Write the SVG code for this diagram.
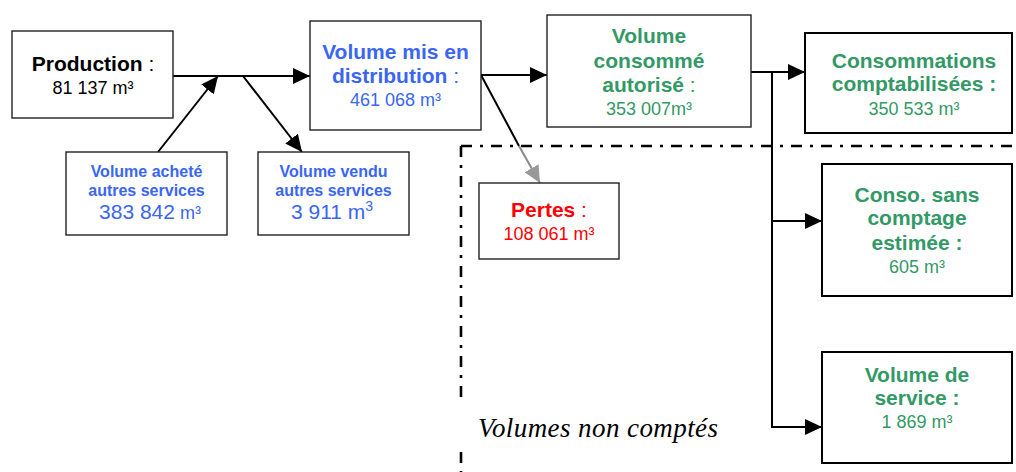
<svg xmlns="http://www.w3.org/2000/svg" width="1016" height="472" viewBox="0 0 1016 472">
<style>
text{font-family:"Liberation Sans",Arial,sans-serif;text-anchor:middle}
.b{font-weight:bold;font-size:21px}
.r{font-weight:normal}
.n{font-size:18px}
.sb{font-weight:bold;font-size:16px}
.blue{fill:#3a66f2}
.green{fill:#339966}
.red{fill:#ff0000}
.box{fill:#fff;stroke:#222;stroke-width:1.4}
.box2{fill:#fff;stroke:#000;stroke-width:2}
.ln{stroke:#000;stroke-width:2;fill:none}
.dd{stroke:#000;stroke-width:2.6;fill:none;stroke-dasharray:11 8 3 8}
</style>
<defs>
<marker id="ah" markerUnits="userSpaceOnUse" markerWidth="18" markerHeight="16" refX="17" refY="8" orient="auto"><path d="M0,0 L17,8 L0,16 z" fill="#000"/></marker>
<marker id="ahg" markerUnits="userSpaceOnUse" markerWidth="18" markerHeight="16" refX="17" refY="8" orient="auto"><path d="M0,0 L17,8 L0,16 z" fill="#999"/></marker>
</defs>

<g id="zone-non-comptes">
<path class="dd" d="M461,146 H1016"/>
<path class="dd" d="M461,146 V402"/>
<path class="dd" d="M461,452 V472"/>
<text x="478" y="437" textLength="240" lengthAdjust="spacing" style="font-family:'Liberation Serif','Times New Roman',serif;font-style:italic;font-size:27px;text-anchor:start">Volumes non comptés</text>
</g>

<g id="connectors">
<path class="ln" d="M173,76 H310" marker-end="url(#ah)"/>
<path class="ln" d="M158,152 L218,76" marker-end="url(#ah)"/>
<path class="ln" d="M243,76 L302,152" marker-end="url(#ah)"/>
<path class="ln" d="M481,75 H547" marker-end="url(#ah)"/>
<path class="ln" d="M481,75 L519,146"/>
<path d="M519,146 L540,183" stroke="#888" stroke-width="2" fill="none" marker-end="url(#ahg)"/>
<path class="ln" d="M751,72 H805" marker-end="url(#ah)"/>
<path class="ln" d="M772,72 V427 H822" marker-end="url(#ah)"/>
<path class="ln" d="M772,221 H822" marker-end="url(#ah)"/>
</g>

<g id="production">
<rect class="box" x="12" y="31" width="161" height="87"/>
<text x="93" y="71" class="b">Production<tspan class="r"> :</tspan></text>
<text x="93" y="94" class="n">81 137 m³</text>
</g>

<g id="volume-achete">
<rect class="box" x="66" y="152" width="161" height="83"/>
<text x="146.5" y="177" class="sb blue">Volume acheté</text>
<text x="146.5" y="196" class="sb blue">autres services</text>
<text x="150" y="219" class="blue" style="font-size:21px">383 842<tspan style="font-size:18px"> m³</tspan></text>
</g>

<g id="volume-vendu">
<rect class="box" x="258" y="152" width="151" height="83"/>
<text x="333.5" y="177" class="sb blue">Volume vendu</text>
<text x="333.5" y="196" class="sb blue">autres services</text>
<text x="332" y="219" class="blue" style="font-size:21px">3 911 m<tspan dy="-8" style="font-size:14px">3</tspan></text>
</g>

<g id="volume-distribution">
<rect class="box" x="310" y="21" width="171" height="109"/>
<text x="395.5" y="59" class="b blue">Volume mis en</text>
<text x="395.5" y="83" class="b blue">distribution<tspan class="r"> :</tspan></text>
<text x="395.5" y="106" class="n blue">461 068 m³</text>
</g>

<g id="volume-consomme">
<rect class="box" x="547" y="15" width="204" height="112"/>
<text x="649" y="43" class="b green">Volume</text>
<text x="649" y="68" class="b green">consommé</text>
<text x="649" y="92" class="b green">autorisé<tspan class="r"> :</tspan></text>
<text x="649" y="115" class="n green">353 007m³</text>
</g>

<g id="pertes">
<rect class="box" x="479" y="183" width="140" height="76"/>
<text x="549" y="217" class="b red">Pertes<tspan class="r"> :</tspan></text>
<text x="549" y="240" class="n red">108 061 m³</text>
</g>

<g id="consommations-comptabilisees">
<rect class="box2" x="805" y="33" width="207" height="100"/>
<text x="914" y="68" class="b green">Consommations</text>
<text x="914" y="91" class="b green">comptabilisées :</text>
<text x="914" y="115" class="n green">350 533 m³</text>
</g>

<g id="conso-sans-comptage">
<rect class="box2" x="822" y="164" width="190" height="132"/>
<text x="917" y="202" class="b green">Conso. sans</text>
<text x="917" y="225" class="b green">comptage</text>
<text x="917" y="250" class="b green">estimée :</text>
<text x="917" y="273" class="n green">605 m³</text>
</g>

<g id="volume-service">
<rect class="box2" x="822" y="352" width="190" height="111"/>
<text x="917" y="382" class="b green">Volume de</text>
<text x="917" y="405" class="b green">service :</text>
<text x="917" y="428" class="n green">1 869 m³</text>
</g>
</svg>
